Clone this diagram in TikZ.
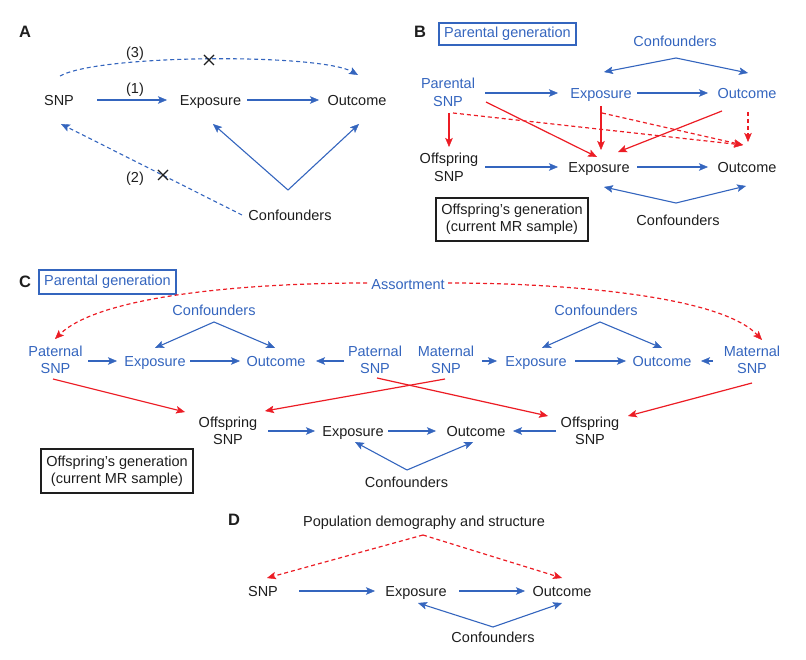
\documentclass[tikz,border=0pt]{standalone}
\usepackage{fontspec}
\setmainfont{Liberation Sans}
\usetikzlibrary{arrows.meta}
\definecolor{mrblue}{RGB}{52,101,190}
\definecolor{mrred}{RGB}{236,28,36}
\definecolor{mrblack}{RGB}{30,30,30}
\begin{document}
\begin{tikzpicture}[x=1pt,y=-1pt,
  lbl/.style={font=\fontsize{14.5}{17.5}\selectfont, text height=10.4pt, text depth=0pt, inner sep=0pt, text=mrblack},
  lbltwo/.style={font=\fontsize{14.5}{17.5}\selectfont, align=center, inner sep=0pt, text=mrblack},
  bluetext/.style={text=mrblue},
  letter/.style={font=\fontsize{16.5}{18}\selectfont\bfseries, inner sep=0pt, text=mrblack},
  genbox/.style={draw, line width=1.1pt, font=\fontsize{14.5}{17.5}\selectfont, align=center, inner sep=0pt},
  tip/.style={-{Stealth[length=9pt,width=7.5pt,inset=2pt,line width=0.4pt]}},
  barr/.style={tip, draw=mrblue, line width=1.1pt},
  rarr/.style={tip, draw=mrred, line width=1.2pt},
  rdash/.style={rarr, dash pattern=on 4pt off 3pt},
  bdash/.style={barr, dash pattern=on 4pt off 3pt},
  xmark/.style={draw=mrblack, line width=1.2pt}
]
\useasboundingbox (0,0) rectangle (806,660);

% ---------------- Panel A ----------------
\node[letter] (letA) at (25,32) {A};
\node[lbl] (snpA) at (59,100) {SNP};
\node[lbl] (expA) at (210.5,100) {Exposure};
\node[lbl] (outA) at (357,100) {Outcome};
\node[lbl] (conA) at (290,215) {Confounders};
\node[lbl] (l1) at (135,88) {(1)};
\node[lbl] (l2) at (135,177) {(2)};
\node[lbl] (l3) at (135,52) {(3)};
\coordinate (xa) at (209,60);
\coordinate (xb) at (163,175);

\draw[barr] ([shift={(38,0)}]snpA.center) -- ([shift={(-43.5,0)}]expA.center);
\draw[barr] ([shift={(36.5,0)}]expA.center) -- ([shift={(-38,0)}]outA.center);
\draw[barr] ([shift={(-2,-25)}]conA.center) -- ([shift={(2.5,24)}]expA.center);
\draw[barr] ([shift={(-2,-25)}]conA.center) -- ([shift={(2,24)}]outA.center);
\draw[bdash] ([shift={(-48,0)}]conA.center) -- ([shift={(2,24)}]snpA.center);
\draw[bdash] ([shift={(1,-24)}]snpA.center) .. controls +(40,-22) and +(-38,-21.5) .. ([shift={(1,-25)}]outA.center);
\draw[xmark] ([shift={(-5,-5)}]xa) -- ([shift={(5,5)}]xa) ([shift={(-5,5)}]xa) -- ([shift={(5,-5)}]xa);
\draw[xmark] ([shift={(-5,-5)}]xb) -- ([shift={(5,5)}]xb) ([shift={(-5,5)}]xb) -- ([shift={(5,-5)}]xb);

% ---------------- Panel B ----------------
\node[letter] (letB) at (420,32) {B};
\node[genbox, draw=mrblue, text=mrblue, minimum width=137pt, minimum height=22pt] (pgB) at (507.5,34) {Parental generation};
\node[lbl, bluetext] (confPB) at (675,41) {Confounders};
\node[lbltwo, bluetext] (psnpB) at (448,92.5) {Parental\\SNP};
\node[lbl, bluetext] (pexpB) at (601,93) {Exposure};
\node[lbl, bluetext] (poutB) at (747,93) {Outcome};
\node[lbltwo] (osnpB) at (449,167.5) {Offspring\\SNP};
\node[lbl] (oexpB) at (599,167) {Exposure};
\node[lbl] (ooutB) at (747,167) {Outcome};
\node[lbl] (confOB) at (678,220) {Confounders};
\node[genbox, draw=mrblack, text=mrblack, minimum width=152pt, minimum height=43pt] (ogB) at (512,219.5) {Offspring’s generation\\(current MR sample)};

\draw[barr] ([shift={(37,0.5)}]psnpB.center) -- ([shift={(-43,0)}]pexpB.center);
\draw[barr] ([shift={(36,0)}]pexpB.center) -- ([shift={(-39,0)}]poutB.center);
\draw[barr] ([shift={(1,17)}]confPB.center) -- ([shift={(3,-21)}]pexpB.center);
\draw[barr] ([shift={(1,17)}]confPB.center) -- ([shift={(1,-20)}]poutB.center);
\draw[barr] ([shift={(36,-0.5)}]osnpB.center) -- ([shift={(-41,0)}]oexpB.center);
\draw[barr] ([shift={(38,0)}]oexpB.center) -- ([shift={(-39,0)}]ooutB.center);
\draw[barr] ([shift={(-2,-17)}]confOB.center) -- ([shift={(5,20)}]oexpB.center);
\draw[barr] ([shift={(-2,-17)}]confOB.center) -- ([shift={(-1,19)}]ooutB.center);

\draw[rarr] ([shift={(1,20.5)}]psnpB.center) -- ([shift={(0,-20.5)}]osnpB.center);
\draw[rdash] ([shift={(5,20.5)}]psnpB.center) -- ([shift={(-4,-22)}]ooutB.center);
\draw[rarr] ([shift={(38,9.5)}]psnpB.center) -- ([shift={(-2,-10)}]oexpB.center);
\draw[rarr] ([shift={(0,13)}]pexpB.center) -- ([shift={(2,-17)}]oexpB.center);
\draw[rarr] ([shift={(-25,18)}]poutB.center) -- ([shift={(19,-15)}]oexpB.center);
\draw[rdash] ([shift={(1,20)}]pexpB.center) -- ([shift={(-4,-22)}]ooutB.center);
\draw[rdash] ([shift={(1,19)}]poutB.center) -- ([shift={(1,-25)}]ooutB.center);

% ---------------- Panel C ----------------
\node[letter] (letC) at (25,282) {C};
\node[genbox, draw=mrblue, text=mrblue, minimum width=137pt, minimum height=24pt] (pgC) at (107.5,282) {Parental generation};
\node[lbl, bluetext] (assort) at (408,284) {Assortment};
\node[lbltwo, bluetext] (patL) at (55.5,360) {Paternal\\SNP};
\node[lbl, bluetext] (expCL) at (155,361) {Exposure};
\node[lbl, bluetext] (outCL) at (276,361) {Outcome};
\node[lbl, bluetext] (confCL) at (214,310) {Confounders};
\node[lbltwo, bluetext] (patM) at (375,360) {Paternal\\SNP};
\node[lbltwo, bluetext] (matM) at (446,360) {Maternal\\SNP};
\node[lbl, bluetext] (expCR) at (536,361) {Exposure};
\node[lbl, bluetext] (outCR) at (662,361) {Outcome};
\node[lbl, bluetext] (confCR) at (596,310) {Confounders};
\node[lbltwo, bluetext] (matR) at (752,360) {Maternal\\SNP};
\node[lbltwo] (offL) at (228,431) {Offspring\\SNP};
\node[lbl] (expCO) at (353,431) {Exposure};
\node[lbl] (outCO) at (476,431) {Outcome};
\node[lbltwo] (offR) at (590,431) {Offspring\\SNP};
\node[lbl] (confCO) at (406.5,482) {Confounders};
\node[genbox, draw=mrblack, text=mrblack, minimum width=152pt, minimum height=44pt] (ogC) at (117,471) {Offspring’s generation\\(current MR sample)};

\draw[barr] ([shift={(32.5,1)}]patL.center) -- ([shift={(-38,0)}]expCL.center);
\draw[barr] ([shift={(35,0)}]expCL.center) -- ([shift={(-36,0)}]outCL.center);
\draw[barr] ([shift={(0,12)}]confCL.center) -- ([shift={(0,-13)}]expCL.center);
\draw[barr] ([shift={(0,12)}]confCL.center) -- ([shift={(-1,-13)}]outCL.center);
\draw[barr] ([shift={(-31,1)}]patM.center) -- ([shift={(40,0)}]outCL.center);
\draw[barr] ([shift={(36,1)}]matM.center) -- ([shift={(-39,0)}]expCR.center);
\draw[barr] ([shift={(39,0)}]expCR.center) -- ([shift={(-36,0)}]outCR.center);
\draw[barr] ([shift={(4,12)}]confCR.center) -- ([shift={(6,-13)}]expCR.center);
\draw[barr] ([shift={(4,12)}]confCR.center) -- ([shift={(0,-13)}]outCR.center);
\draw[barr] ([shift={(-39,1)}]matR.center) -- ([shift={(39,0)}]outCR.center);
\draw[barr] ([shift={(40,0)}]offL.center) -- ([shift={(-38,0)}]expCO.center);
\draw[barr] ([shift={(35,0)}]expCO.center) -- ([shift={(-40,0)}]outCO.center);
\draw[barr] ([shift={(-34,0)}]offR.center) -- ([shift={(37,0)}]outCO.center);
\draw[barr] ([shift={(0.5,-12)}]confCO.center) -- ([shift={(2,11)}]expCO.center);
\draw[barr] ([shift={(0.5,-12)}]confCO.center) -- ([shift={(-3,11)}]outCO.center);

\draw[rarr] ([shift={(-2.5,19)}]patL.center) -- ([shift={(-43,-19)}]offL.center);
\draw[rarr] ([shift={(-1,19)}]matM.center) -- ([shift={(37,-20)}]offL.center);
\draw[rarr] ([shift={(2,18)}]patM.center) -- ([shift={(-42,-15)}]offR.center);
\draw[rarr] ([shift={(0,23)}]matR.center) -- ([shift={(38,-15)}]offR.center);
\draw[rdash] ([shift={(-41,-1)}]assort.center) .. controls +(-117,0) and +(45,-44) .. ([shift={(-0.5,-21)}]patL.center);
\draw[rdash] ([shift={(40,-1)}]assort.center) .. controls +(112,0) and +(-42,-45) .. ([shift={(10,-20)}]matR.center);

% ---------------- Panel D ----------------
\node[letter] (letD) at (234,520) {D};
\node[lbl] (pop) at (424,521) {Population demography and structure};
\node[lbl] (snpD) at (263,591) {SNP};
\node[lbl] (expD) at (416,591) {Exposure};
\node[lbl] (outD) at (562,591) {Outcome};
\node[lbl] (confD) at (493,637) {Confounders};

\draw[barr] ([shift={(36,0)}]snpD.center) -- ([shift={(-41,0)}]expD.center);
\draw[barr] ([shift={(43,0)}]expD.center) -- ([shift={(-37,0)}]outD.center);
\draw[rdash] ([shift={(-1,14)}]pop.center) -- ([shift={(4,-13)}]snpD.center);
\draw[rdash] ([shift={(-1,14)}]pop.center) -- ([shift={(0,-13)}]outD.center);
\draw[barr] ([shift={(0,-10)}]confD.center) -- ([shift={(2,12)}]expD.center);
\draw[barr] ([shift={(0,-10)}]confD.center) -- ([shift={(0,12)}]outD.center);
\end{tikzpicture}
\end{document}
